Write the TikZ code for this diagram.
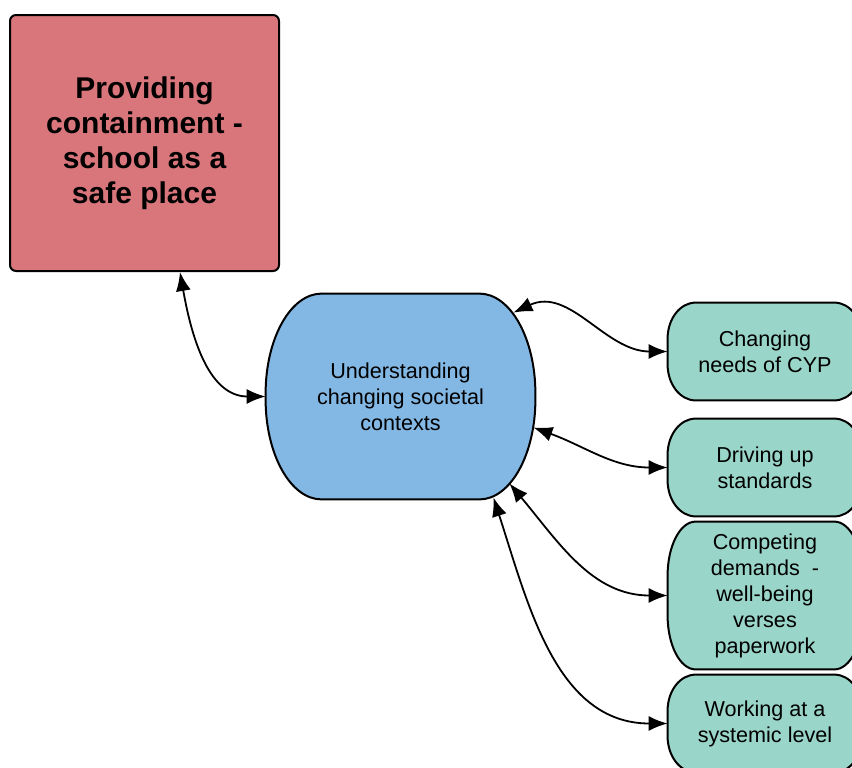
\documentclass[tikz,border=0pt]{standalone}
\usepackage{fontspec}
\setmainfont{Liberation Sans}
\usetikzlibrary{arrows.meta,backgrounds}
\definecolor{safered}{RGB}{217,118,124}
\definecolor{hubblue}{RGB}{131,184,228}
\definecolor{themegreen}{RGB}{153,213,200}

% outline with elliptic corners, drawn behind a named node
\newcommand{\softframe}[4]{%
  \begin{pgfonlayer}{background}
    \filldraw[fill=#4, line width=1pt]
      ([xshift=#2]#1.north west) -- ([xshift=-#2]#1.north east)
      arc[start angle=90, end angle=0, x radius=#2, y radius=#3]
      -- ([yshift=#3]#1.south east)
      arc[start angle=0, end angle=-90, x radius=#2, y radius=#3]
      -- ([xshift=#2]#1.south west)
      arc[start angle=270, end angle=180, x radius=#2, y radius=#3]
      -- ([yshift=-#3]#1.north west)
      arc[start angle=180, end angle=90, x radius=#2, y radius=#3] -- cycle;
  \end{pgfonlayer}}

\begin{document}
\begin{tikzpicture}[x=0.5pt, y=0.5pt,
    safebox/.style={draw=black, line width=1pt, fill=safered, rounded corners=3pt,
      minimum width=134.5pt, minimum height=128pt, align=center,
      font=\fontsize{15}{17.5}\selectfont\bfseries},
    hubbox/.style={minimum width=134.5pt, minimum height=102.5pt, align=center,
      font=\fontsize{10.8}{13}\selectfont},
    themebox/.style={minimum width=97pt, minimum height=48.5pt, align=center,
      font=\fontsize{10.8}{13}\selectfont},
    link/.style={{Latex[length=9.5pt,width=7.5pt]}-{Latex[length=9.5pt,width=7.5pt]}, line width=0.9pt}
]
\useasboundingbox (0,0) rectangle (852,-767);
\clip (0,0) rectangle (852,-767);

\node[safebox] (place) at (144.5,-143) {Providing\\containment -\\school as a\\safe place};
\node[hubbox] (ctx) at (400.5,-396.5) {Understanding\\changing societal\\contexts};

\node[themebox] (needs) at (765,-351.5) {Changing\\needs of CYP};
\node[themebox] (standards) at (765,-467.5) {Driving up\\standards};
\node[themebox, minimum height=73.5pt] (demands) at (765,-595.5) {Competing\\demands\ \ -\\well-being\\verses\\paperwork};
\node[themebox] (systemic) at (765,-723.5) {Working at a\\systemic level};

\softframe{ctx}{28pt}{50pt}{hubblue}
\foreach \n/\r in {needs/18pt, standards/18pt, demands/27pt, systemic/18pt}
  {\softframe{\n}{14pt}{\r}{themegreen}}

\draw[link] ([shift={(35.5,0)}]place.south) to[out=-80, in=180] (ctx.west);
\draw[link] ([shift={(-22,-19)}]ctx.north east) to[out=25, in=180] (needs.west);
\draw[link] ([shift={(-2,-31)}]ctx.east) to[out=-20, in=180] (standards.west);
\draw[link] ([shift={(-26,16)}]ctx.south east) to[out=-50, in=180] (demands.west);
\draw[link] ([shift={(-42,2)}]ctx.south east) to[out=-72, in=180] (systemic.west);

\end{tikzpicture}
\end{document}
